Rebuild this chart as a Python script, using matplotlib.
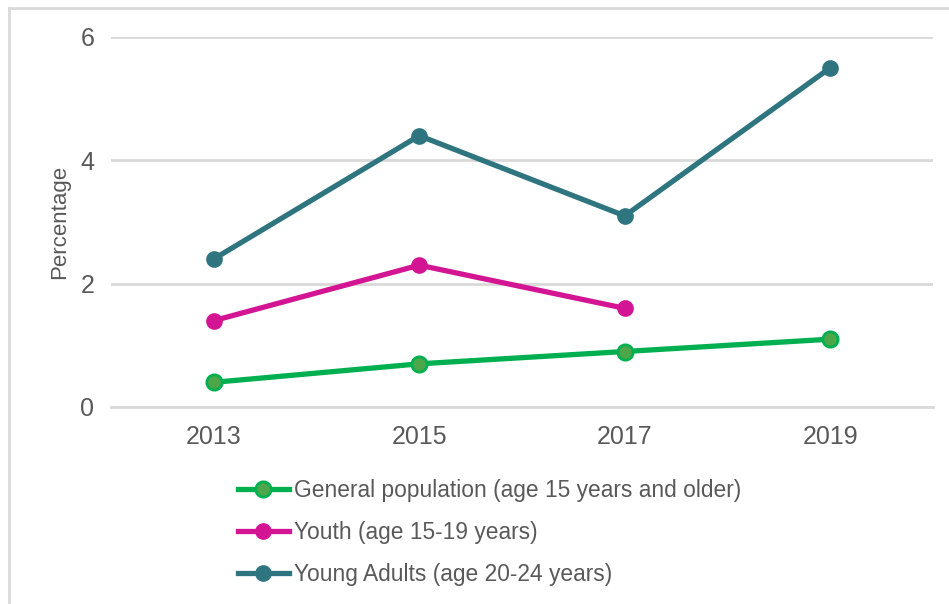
import matplotlib
matplotlib.use("Agg")
import matplotlib.pyplot as plt
from matplotlib.lines import Line2D

years = ["2013", "2015", "2017", "2019"]
general_population = [0.4, 0.7, 0.9, 1.1]
youth = [1.4, 2.3, 1.6]
young_adults = [2.4, 4.4, 3.1, 5.5]
series_labels = [
    "General population (age 15 years and older)",
    "Youth (age 15-19 years)",
    "Young Adults (age 20-24 years)",
]
y_ticks = [0, 2, 4, 6]

text_color = "#595959"
grid_color = "#D9D9D9"
green = "#00B050"
green_face = "#4EA64A"
pink = "#D41593"
teal = "#2E7580"

plt.rcParams["font.family"] = ["Liberation Sans", "DejaVu Sans"]

fig = plt.figure(figsize=(9.49, 6.04), dpi=100)
W, H = 949, 604
ax = fig.add_axes([111 / W, 1 - 407 / H, (933 - 111) / W, (407 - 37) / H])

x = list(range(len(years)))
lw = 3.8
ms = 11
h1, = ax.plot(x, general_population, color=green, lw=lw, marker="o", ms=ms,
              markerfacecolor=green_face, markeredgecolor=green, markeredgewidth=2,
              label=series_labels[0], zorder=3)
h2, = ax.plot(x[:len(youth)], youth, color=pink, lw=lw, marker="o", ms=ms,
              markerfacecolor=pink, markeredgecolor=pink,
              label=series_labels[1], zorder=3)
h3, = ax.plot(x, young_adults, color=teal, lw=lw, marker="o", ms=ms,
              markerfacecolor=teal, markeredgecolor=teal,
              label=series_labels[2], zorder=3)

ax.set_xlim(-0.5, len(years) - 0.5)
ax.set_ylim(0, 6)
ax.set_yticks(y_ticks)
ax.set_xticks(x)
ax.set_xticklabels(years)
ax.yaxis.grid(True, color=grid_color, lw=2)
ax.set_axisbelow(True)
for side in ["left", "right", "top"]:
    ax.spines[side].set_visible(False)
ax.spines["bottom"].set_color(grid_color)
ax.spines["bottom"].set_linewidth(2)
ax.tick_params(axis="both", length=0, labelsize=18, colors=text_color)
ax.tick_params(axis="y", pad=12)
ax.tick_params(axis="x", pad=13)
ax.set_ylabel("Percentage", fontsize=16, color=text_color)
ax.yaxis.set_label_coords((70 - 111) / 822, 0.5)

leg = fig.legend(handles=[h1, h2, h3], loc="upper left",
                 bbox_to_anchor=(217 / W, 1 - 458 / H), frameon=False,
                 fontsize=16.4, labelcolor=text_color, handlelength=2.26,
                 handletextpad=0.2, labelspacing=0.85)

# outer chart frame
fig.add_artist(Line2D([8.5 / W, 8.5 / W], [0, 1 - 7.5 / H], transform=fig.transFigure,
                      color=grid_color, lw=2))
fig.add_artist(Line2D([8.5 / W, 1], [1 - 7.5 / H, 1 - 7.5 / H], transform=fig.transFigure,
                      color=grid_color, lw=2))

fig.savefig("out.png", dpi=100)
